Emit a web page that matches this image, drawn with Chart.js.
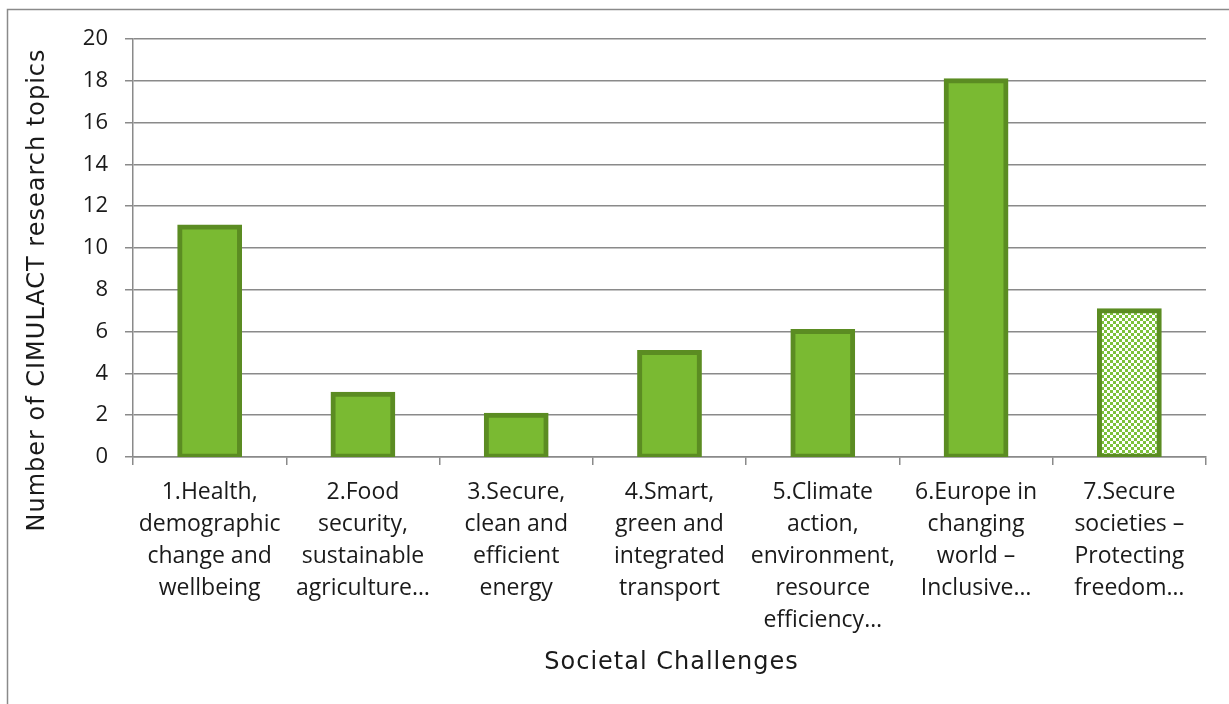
<!DOCTYPE html>
<html lang="en">
<head>
    <meta charset="UTF-8">
    <title>Societal Challenges</title>
    <style>
        html, body { margin: 0; padding: 0; background: #ffffff; }
        #grafico { display: block; }
    </style>
</head>
<body>
<canvas id="grafico" width="1229" height="704"></canvas>
<script src="https://cdn.jsdelivr.net/npm/chart.js"></script>
<script type="text/javascript">
    // chart values
    const categorias = [
        ["1.Health,", "demographic", "change and", "wellbeing"],
        ["2.Food", "security,", "sustainable", "agriculture…"],
        ["3.Secure,", "clean and", "efficient", "energy"],
        ["4.Smart,", "green and", "integrated", "transport"],
        ["5.Climate", "action,", "environment,", "resource", "efficiency…"],
        ["6.Europe in", "changing", "world –", "Inclusive…"],
        ["7.Secure", "societies –", "Protecting", "freedom…"]
    ];
    const temas = [11, 3, 2, 5, 6, 18, 7];
    const tituloY = "Number of CIMULACT research topics";
    const tituloX = "Societal Challenges";

    const verde = '#7aba32';
    const verdeBorde = '#5b8c22';
    const gris = '#8a8a8a';

    // checker fill for the last bar
    function patronCuadros() {
        var c = document.createElement('canvas');
        c.width = 6; c.height = 6;
        var g = c.getContext('2d');
        g.fillStyle = '#ffffff';
        g.fillRect(0, 0, 6, 6);
        g.fillStyle = '#7cc13a';
        g.fillRect(0, 0, 3, 3);
        g.fillRect(3, 3, 3, 3);
        return g.createPattern(c, 'repeat');
    }

    var Canvas = document.getElementById('grafico');
    var rellenos = temas.map(function (v, i) { return i === 6 ? patronCuadros() : verde; });

    function tituloEje(ctx, texto, x, y, angulo) {
        ctx.save();
        ctx.translate(x, y);
        ctx.rotate(angulo);
        ctx.font = '24px "DejaVu Sans"';
        ctx.letterSpacing = '1px';
        ctx.fillStyle = '#1a1a1a';
        ctx.textAlign = 'center';
        ctx.textBaseline = 'middle';
        ctx.fillText(texto, 0, 0);
        ctx.restore();
    }

    // frame around chart + axis titles
    const marco = {
        id: 'marco',
        beforeDraw: function (chart) {
            var ctx = chart.ctx;
            ctx.save();
            ctx.strokeStyle = gris;
            ctx.lineWidth = 1.5;
            ctx.beginPath();
            ctx.moveTo(7.5, 704);
            ctx.lineTo(7.5, 9.5);
            ctx.lineTo(1229, 9.5);
            ctx.stroke();
            ctx.restore();
        },
        afterDraw: function (chart) {
            var a = chart.chartArea;
            tituloEje(chart.ctx, tituloY, 38, 290, -Math.PI / 2);
            tituloEje(chart.ctx, tituloX, (a.left + a.right) / 2 + 2, 663, 0);
        }
    };

    var grafico = new Chart(Canvas, {
        type: 'bar',
        data: {
            labels: categorias,
            datasets: [{
                label: 'Topics',
                data: temas,
                backgroundColor: rellenos,
                borderColor: verdeBorde,
                borderWidth: 5,
                borderSkipped: false,
                inflateAmount: 2.5,
                barPercentage: 0.39,
                categoryPercentage: 1.0
            }]
        },
        options: {
            responsive: false,
            animation: false,
            events: [],
            layout: { padding: { left: 0, top: 39, right: 23, bottom: 0 } },
            plugins: {
                legend: { display: false },
                tooltip: { enabled: false }
            },
            scales: {
                x: {
                    afterFit: function (s) { s.height = 247; },
                    grid: {
                        drawOnChartArea: false,
                        drawTicks: true,
                        tickLength: 8,
                        color: gris,
                        lineWidth: 1.5
                    },
                    border: { display: true, color: gris, width: 1.5 },
                    ticks: {
                        color: '#1a1a1a',
                        padding: 11,
                        maxRotation: 0,
                        autoSkip: false,
                        font: { family: '"Open Sans"', size: 23, lineHeight: '32px' }
                    }
                },
                y: {
                    min: 0,
                    max: 20,
                    afterFit: function (s) { s.width = 133; },
                    grid: {
                        color: gris,
                        lineWidth: 1.5,
                        tickLength: 8
                    },
                    border: { display: true, color: gris, width: 1.5 },
                    ticks: {
                        stepSize: 2,
                        color: '#1a1a1a',
                        padding: 17,
                        font: { family: '"Open Sans"', size: 22 }
                    }
                }
            }
        },
        plugins: [marco]
    });
</script>
</body>
</html>
